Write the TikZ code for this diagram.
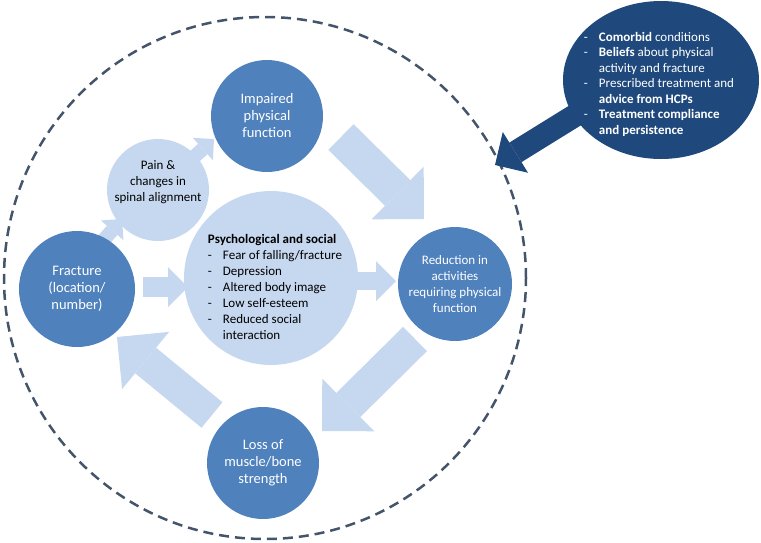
\documentclass[tikz,border=0pt]{standalone}
\usepackage{fontspec}
\setmainfont{Carlito}
\usetikzlibrary{arrows.meta,shapes}
\definecolor{circdark}{RGB}{79,129,189}
\definecolor{circlight}{RGB}{198,216,239}
\definecolor{bubblenavy}{RGB}{31,73,125}
\definecolor{ringgray}{RGB}{68,84,106}
\newcommand{\dsh}{\makebox[15pt][l]{-}}
\newcommand{\nodsh}{\hspace{15pt}}

\begin{document}
\begin{tikzpicture}[x=1pt, y=-1pt,
    darkcirc/.style={circle, fill=circdark, text=white, inner sep=0pt, align=center,
        minimum size=#1, font=\fontsize{14.5}{17}\selectfont},
    lightcirc/.style={circle, fill=circlight, text=black, inner sep=0pt, align=center,
        minimum size=#1, font=\fontsize{13}{16}\selectfont},
    bigarr/.style={draw=circlight, line width=36pt, -{Triangle[length=37pt, width=74pt, line width=0pt]}},
    midarr/.style={draw=circlight, line width=20pt, -{Triangle[length=20pt, width=40pt, line width=0pt]}},
    smallarr/.style={draw=circlight, line width=14pt, -{Triangle[length=15pt, width=30pt, line width=0pt]}},
    calloutarr/.style={draw=bubblenavy, line width=23pt, -{Triangle[length=24pt, width=48pt, line width=0pt]}}
    ]
    \useasboundingbox (0,0) rectangle (761,542);

    % outer dashed ring
    \draw[ringgray, line width=2.5pt, dash pattern=on 10pt off 6pt] (265,278) circle[radius=261pt];

    % block arrows (behind the circles)
    \coordinate (a1s) at (341,137);  \coordinate (a1e) at (424,219);
    \coordinate (a2s) at (415,339);  \coordinate (a2e) at (322,431);
    \coordinate (a3s) at (212,415);  \coordinate (a3e) at (117,337);
    \coordinate (a4s) at (143,287);  \coordinate (a4e) at (188,287);
    \coordinate (a5s) at (350,281);  \coordinate (a5e) at (396,281);
    \coordinate (a6s) at (95,250);   \coordinate (a6e) at (122,219);
    \coordinate (a7s) at (185,165);  \coordinate (a7e) at (214,139);
    \draw[bigarr] (a1s) -- (a1e);
    \draw[bigarr, line width=34pt] (a2s) -- (a2e);
    \draw[bigarr, line width=33pt] (a3s) -- (a3e);
    \draw[midarr] (a4s) -- (a4e);
    \draw[midarr, line width=18pt] (a5s) -- (a5e);
    \draw[smallarr] (a6s) -- (a6e);
    \draw[smallarr] (a7s) -- (a7e);

    % circles
    \node[lightcirc=102pt] (pain) at (158,190) {};
    \node[text=black, align=center, font=\fontsize{13}{16}\selectfont] (paintxt) at (158,182)
        {Pain \&\\changes in\\spinal alignment};
    \node[darkcirc=116pt] (frac) at (77,289) {Fracture\\(location/\\number)};
    \node[darkcirc=112pt] (imp) at (267,116) {Impaired\\physical\\function};
    \node[lightcirc=174pt] (psych) at (271,278) {};
    \node[text=black, align=left, font=\fontsize{13}{16}\selectfont] (psychtxt) at (275,287)
        {\textbf{Psychological and social}\\
         \dsh Fear of falling/fracture\\
         \dsh Depression\\
         \dsh Altered body image\\
         \dsh Low self-esteem\\
         \dsh Reduced social\\
         \nodsh interaction};
    \node[darkcirc=114pt, font=\fontsize{13}{16}\selectfont] (red) at (455,284)
        {Reduction in\\activities\\requiring physical\\function};
    \node[darkcirc=112pt] (loss) at (263,463) {Loss of\\muscle/bone\\strength};

    % callout bubble
    \coordinate (cbs) at (600,100);
    \coordinate (cbe) at (495,165);
    \draw[calloutarr] (cbs) -- (cbe);
    \node[ellipse, fill=bubblenavy, minimum width=196pt, minimum height=158pt] (bubble) at (661,80) {};
    \node[text=white, align=left, font=\fontsize{13}{15.5}\selectfont] (bubbletxt) at (659,84)
        {\dsh\textbf{Comorbid} conditions\\
         \dsh\textbf{Beliefs} about physical\\
         \nodsh activity and fracture\\
         \dsh Prescribed treatment and\\
         \nodsh\textbf{advice from HCPs}\\
         \dsh\textbf{Treatment compliance}\\
         \nodsh\textbf{and persistence}};
\end{tikzpicture}
\end{document}
